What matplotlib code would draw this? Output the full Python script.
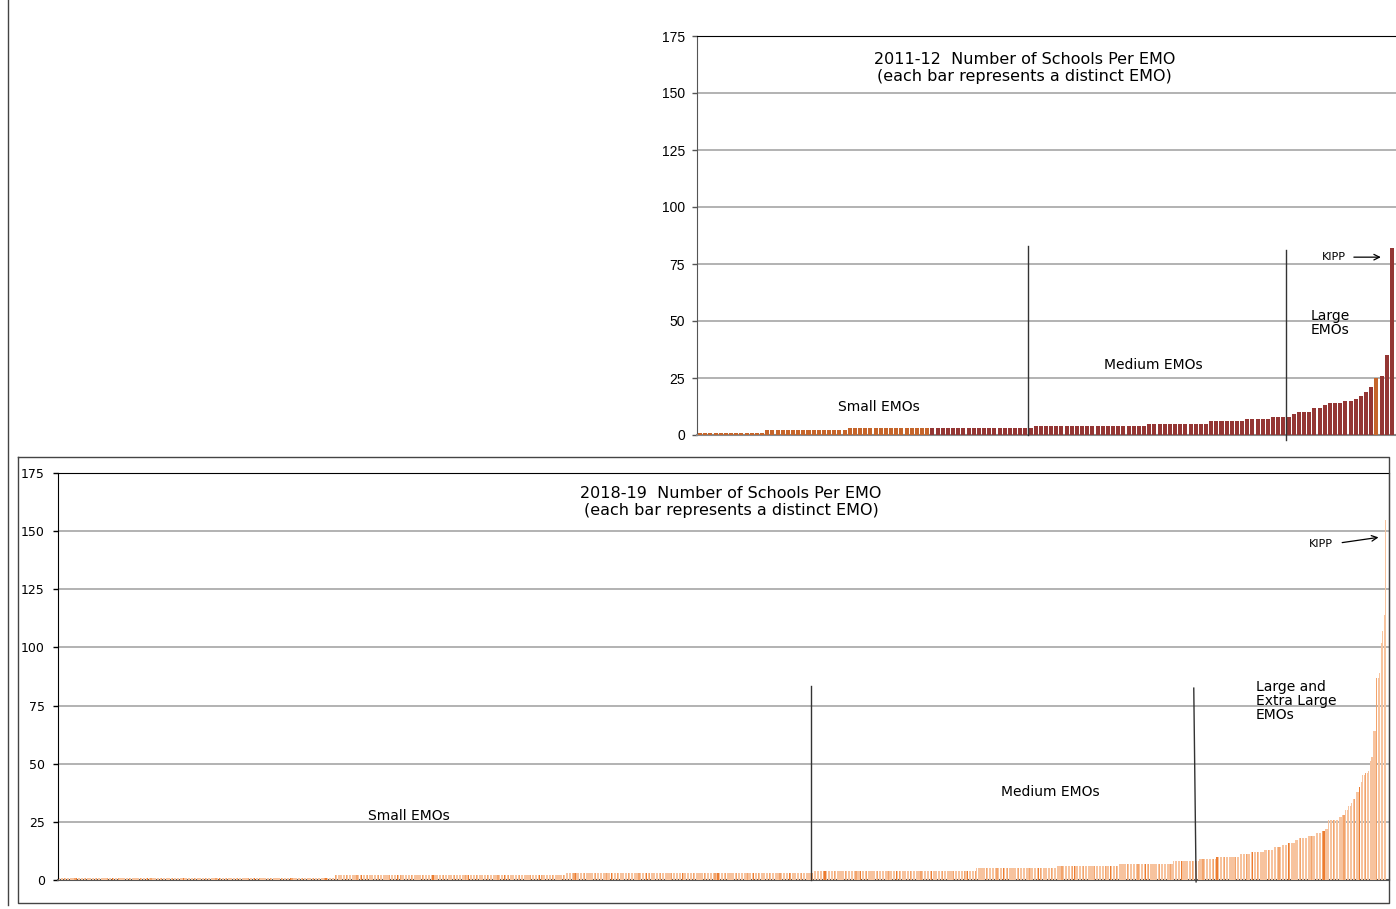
import numpy as np
import matplotlib.pyplot as plt
from matplotlib.lines import Line2D

plt.rcParams['font.family'] = ['DejaVu Sans']

# 2011-12: schools per EMO, run-length encoded (value, how many EMOs)
vals_2011 = [1, 2, 3, 4, 5, 6, 7, 8, 9, 10, 12, 13, 14, 15, 16, 17, 19, 21, 25, 26, 35, 82]
cnts_2011 = [13, 16, 36, 22, 12, 7, 5, 4, 1, 3, 2, 1, 3, 2, 1, 1, 1, 1, 1, 1, 1, 1]

# 2018-19: schools per EMO, run-length encoded
vals_2018 = [1, 2, 3, 4, 5, 6, 7, 8, 9, 10, 11, 12, 13, 14, 15, 16, 17, 18, 19, 20,
             21, 22, 26, 27, 28, 30, 32, 33, 35, 38, 40, 42, 45, 46, 47, 51, 53, 64,
             87, 89, 102, 107, 114, 155]
cnts_2018 = [178, 149, 160, 105, 52, 40, 35, 17, 11, 15, 7, 9, 6, 5, 4, 5, 2, 6, 5, 4,
             2, 2, 7, 2, 2, 2, 2, 1, 2, 2, 1, 1, 2, 2, 1, 1, 1, 2,
             2, 1, 1, 1, 1, 1]

yticks = [0, 25, 50, 75, 100, 125, 150, 175]

top = np.repeat(vals_2011, cnts_2011)
bot = np.repeat(vals_2018, cnts_2018)

fig = plt.figure(figsize=(13.96, 9.09), dpi=100)

# ---------------- top chart (2011-12) ----------------
ax1 = fig.add_axes([697 / 1396, 474 / 909, 699 / 1396, 399 / 909])
x1 = np.arange(len(top))
c1 = ['#C5652B' if i < 45 else '#943634' for i in x1]
c1[int(np.where(top == 25)[0][0])] = '#C5652B'
ax1.bar(x1, top, width=0.78, color=c1, linewidth=0, zorder=3)
ax1.set_xlim(-0.6, len(top) - 0.2)
ax1.set_ylim(0, 175)
ax1.set_yticks(yticks)
ax1.set_xticks([])
ax1.yaxis.grid(True, color='#A6A6A6', linewidth=1.2, zorder=0)
ax1.set_axisbelow(True)
ax1.spines['right'].set_visible(False)
ax1.spines['top'].set_color('#000000')
ax1.spines['left'].set_color('#555555')
ax1.spines['bottom'].set_color('#888888')
ax1.spines['bottom'].set_linewidth(1.5)
ax1.tick_params(axis='y', length=3.5, width=1, color='#555555', pad=5)
for t in ax1.get_yticklabels():
    t.set_fontfamily(['Liberation Sans Narrow', 'Liberation Sans', 'DejaVu Sans'])
    t.set_fontsize(10)

ax1.text(0.469, 0.92, '2011-12  Number of Schools Per EMO\n(each bar represents a distinct EMO)',
         transform=ax1.transAxes, ha='center', va='center', fontsize=11.5, linespacing=1.15)
ax1.text(34.6, 12.3, 'Small EMOs', ha='center', va='center', fontsize=10)
ax1.text(87.8, 30.7, 'Medium EMOs', ha='center', va='center', fontsize=10)
ax1.text(118.3, 49, 'Large\nEMOs', ha='left', va='center', fontsize=10, linespacing=1.0)
ax1.text(125.1, 78, 'KIPP', ha='right', va='center', fontsize=8)
ax1.annotate('', xy=(132.4, 78), xytext=(126.1, 78),
             arrowprops=dict(arrowstyle='->', color='black', lw=0.9))
ax1.plot([63.5, 63.5], [83, 0], color='#333333', lw=1, clip_on=False, zorder=4)
ax1.plot([113.4, 113.4], [81, -2], color='#333333', lw=1, clip_on=False, zorder=4)

# ---------------- bottom chart (2018-19) ----------------
ax2 = fig.add_axes([58 / 1396, 29 / 909, 1331 / 1396, 407 / 909])
x2 = np.arange(len(bot))
c2 = []
for i in x2:
    if i % 23 == 11:
        c2.append('#EC7C30')
    elif i % 7 == 3:
        c2.append('#F2A46C')
    else:
        c2.append('#F7C39E')
ax2.bar(x2, bot, width=0.75, color=c2, linewidth=0, zorder=3)
ax2.set_xlim(-1, len(bot) + 1)
ax2.set_ylim(0, 175)
ax2.set_yticks(yticks)
ax2.set_xticks([])
ax2.yaxis.grid(True, color='#A6A6A6', linewidth=1.2, zorder=0)
ax2.set_axisbelow(True)
for s in ['top', 'left', 'right']:
    ax2.spines[s].set_color('#000000')
ax2.spines['bottom'].set_color('#555555')
ax2.spines['bottom'].set_linewidth(1.5)
ax2.tick_params(axis='y', length=3.5, width=1, color='#000000', pad=6, labelsize=9)

ax2.text(0.5056, 0.929, '2018-19  Number of Schools Per EMO\n(each bar represents a distinct EMO)',
         transform=ax2.transAxes, ha='center', va='center', fontsize=11.5, linespacing=1.15)
ax2.text(225.5, 27.5, 'Small EMOs', ha='center', va='center', fontsize=10)
ax2.text(639.6, 37.8, 'Medium EMOs', ha='center', va='center', fontsize=10)
ax2.text(772, 77, 'Large and\nExtra Large\nEMOs', ha='left', va='center', fontsize=10,
         linespacing=1.0)
ax2.text(821.6, 144.5, 'KIPP', ha='right', va='center', fontsize=8)
ax2.annotate('', xy=(853, 147.5), xytext=(826, 144.9),
             arrowprops=dict(arrowstyle='->', color='black', lw=0.9))
ax2.plot([485, 485], [83.4, 0], color='#333333', lw=1, clip_on=False, zorder=4)
ax2.plot([732, 733.5], [82.5, -0.8], color='#333333', lw=1, clip_on=False, zorder=4)

# frame around the bottom chart and the page line at the left
H = 909.0
W = 1396.0
frame = [(18, 457), (1389, 457), (1389, 903), (18, 903), (18, 457)]
fig.add_artist(Line2D([p[0] / W for p in frame], [1 - p[1] / H for p in frame],
                      color='#444444', lw=1, transform=fig.transFigure))
fig.add_artist(Line2D([8 / W, 8 / W], [1.0, 1 - 905 / H], color='#444444', lw=1,
                      transform=fig.transFigure))

fig.savefig('out.png', dpi=100)
